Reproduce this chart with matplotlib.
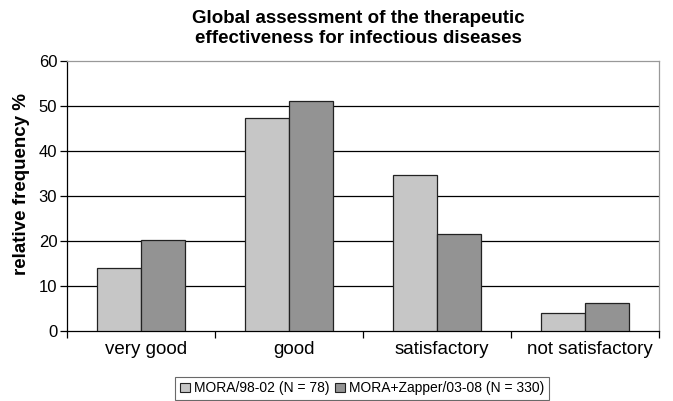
import numpy as np
import matplotlib.pyplot as plt
import matplotlib.transforms as mtransforms
from matplotlib.patches import Patch

categories = ["very good", "good", "satisfactory", "not satisfactory"]
mora = [14.1, 47.3, 34.6, 4.0]
zapper = [20.3, 51.1, 21.6, 6.3]
series_names = ["MORA/98-02 (N = 78)", "MORA+Zapper/03-08 (N = 330)"]
yticks = [0, 10, 20, 30, 40, 50, 60]

plt.rcParams['font.family'] = ['Liberation Sans', 'DejaVu Sans']

fig = plt.figure(figsize=(6.73, 4.01), dpi=100)
ax = fig.add_axes([67 / 673, 70 / 401, 592 / 673, 270 / 401])

x = np.arange(len(categories))
w = 0.295
light = "#c6c6c6"
dark = "#939393"
ax.bar(x - w / 2, mora, w, color=light, edgecolor="#222222", linewidth=0.9, zorder=3)
ax.bar(x + w / 2, zapper, w, color=dark, edgecolor="#222222", linewidth=0.9, zorder=3)

ax.set_xlim(-0.5, len(categories) - 0.5)
ax.set_ylim(0, 60)
ax.set_yticks(yticks)
for t in yticks[1:-1]:
    ax.axhline(t, color="black", linewidth=0.9, zorder=1)

ax.set_xticks(np.arange(-0.5, len(categories), 1.0))
ax.set_xticklabels([])
ax.set_xticks(x, minor=True)
ax.set_xticklabels(categories, minor=True, fontsize=13.5)
ax.tick_params(axis="x", which="minor", length=0, pad=7)
ax.tick_params(axis="x", which="major", length=5, width=0.9, direction="out")
ax.tick_params(axis="y", length=5, width=0.9, labelsize=12, pad=2)
shift = mtransforms.ScaledTranslation(0.05, 0, fig.dpi_scale_trans)
for lab in ax.get_xticklabels(minor=True):
    lab.set_transform(lab.get_transform() + shift)

ax.spines["left"].set_color("black")
ax.spines["bottom"].set_color("black")
ax.spines["top"].set_color("#999999")
ax.spines["right"].set_color("#999999")
for s in ax.spines.values():
    s.set_linewidth(0.9)

ax.set_ylabel("relative frequency %", fontsize=13.5, fontweight="bold")
ax.yaxis.set_label_coords(-0.062, 0.545)
fig.suptitle("Global assessment of the therapeutic\neffectiveness for infectious diseases",
             fontsize=13.5, fontweight="bold", y=0.975, x=0.532, linespacing=1.25)

handles = [Patch(facecolor=light, edgecolor="#222222", linewidth=0.8),
           Patch(facecolor=dark, edgecolor="#222222", linewidth=0.8)]
leg = fig.legend(handles, series_names, loc="lower center", bbox_to_anchor=(0.538, -0.005),
                 ncol=2, fontsize=10, frameon=True, fancybox=False,
                 handlelength=0.7, handleheight=0.7, handletextpad=0.3,
                 columnspacing=0.4, borderpad=0.35, borderaxespad=0.2)
leg.get_frame().set_edgecolor("#444444")
leg.get_frame().set_linewidth(0.8)

fig.savefig("out.png", dpi=100)
